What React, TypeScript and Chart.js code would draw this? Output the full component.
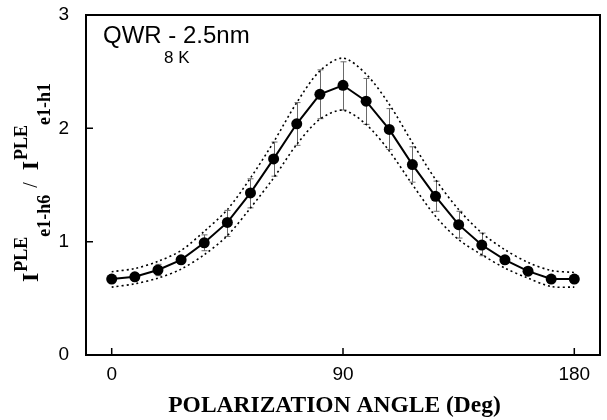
import React, { useEffect, useRef } from "react";
import { Chart, registerables } from "chart.js";

Chart.register(...registerables);

// Polarization angle (degrees)
const angles = [0, 9, 18, 27, 36, 45, 54, 63, 72, 81, 90, 99, 108, 117, 126, 135, 144, 153, 162, 171, 180];

// Intensity ratio I(e1-h6) / I(e1-h1)
const ratio = [0.67, 0.69, 0.75, 0.84, 0.99, 1.17, 1.43, 1.73, 2.04, 2.3, 2.38, 2.24, 1.99, 1.68, 1.4, 1.15, 0.97, 0.84, 0.74, 0.67, 0.67];

// Dotted envelope around the measured curve
const envelopeHigh = [0.735, 0.763, 0.826, 0.922, 1.091, 1.283, 1.562, 1.879, 2.227, 2.507, 2.62, 2.478, 2.212, 1.873, 1.549, 1.283, 1.077, 0.929, 0.817, 0.746, 0.728];
const envelopeLow = [0.599, 0.628, 0.678, 0.758, 0.885, 1.053, 1.298, 1.562, 1.858, 2.08, 2.16, 2.035, 1.8, 1.504, 1.224, 1.018, 0.885, 0.767, 0.678, 0.604, 0.599];

// Error bar limits (null = no bar)
const errHigh: (number | null)[] = [null, null, 0.8, null, 1.06, 1.276, 1.555, 1.879, 2.227, 2.516, 2.587, 2.44, 2.174, 1.837, 1.534, 1.268, 1.076, null, null, null, null];
const errLow: (number | null)[] = [null, null, 0.7, null, 0.92, 1.046, 1.298, 1.578, 1.85, 2.085, 2.162, 2.035, 1.814, 1.525, 1.268, 1.032, 0.876, null, null, null, null];

const xTicks = [0, 90, 180];
const yTicks = [0, 1, 2, 3];

const SANS = "'Liberation Sans', Arial, Helvetica, sans-serif";
const SERIF = "'Liberation Serif', 'Times New Roman', serif";

const decorPlugin = {
  id: "decor",
  beforeDatasetsDraw(chart: any) {
    const { ctx, scales } = chart;
    const xs = scales.x;
    const ys = scales.y;
    ctx.save();
    ctx.strokeStyle = "#6a6a6a";
    ctx.lineWidth = 1;
    for (let i = 0; i < angles.length; i++) {
      const hi = errHigh[i];
      const lo = errLow[i];
      if (hi == null || lo == null) continue;
      const x = Math.round(xs.getPixelForValue(angles[i])) + 0.5;
      const yH = ys.getPixelForValue(hi);
      const yL = ys.getPixelForValue(lo);
      ctx.beginPath();
      ctx.moveTo(x, yH);
      ctx.lineTo(x, yL);
      ctx.moveTo(x - 3, yH);
      ctx.lineTo(x + 3, yH);
      ctx.moveTo(x - 3, yL);
      ctx.lineTo(x + 3, yL);
      ctx.stroke();
    }
    ctx.restore();
  },
  afterDraw(chart: any) {
    const { ctx, chartArea, scales } = chart;
    const { left, right, top, bottom } = chartArea;
    const xs = scales.x;
    const ys = scales.y;
    ctx.save();

    // frame
    ctx.strokeStyle = "#000";
    ctx.lineWidth = 2;
    ctx.strokeRect(left, top, right - left, bottom - top);

    // inward tick marks
    ctx.lineWidth = 1.5;
    ctx.beginPath();
    for (const v of xTicks) {
      const x = xs.getPixelForValue(v);
      ctx.moveTo(x, bottom);
      ctx.lineTo(x, bottom - 7);
    }
    for (const v of yTicks) {
      const y = ys.getPixelForValue(v);
      ctx.moveTo(left, y);
      ctx.lineTo(left + 7, y);
    }
    ctx.stroke();

    // sample annotation
    ctx.fillStyle = "#000";
    ctx.textBaseline = "alphabetic";
    ctx.textAlign = "left";
    ctx.font = `24px ${SANS}`;
    ctx.fillText("QWR - 2.5nm", 103, 43);
    ctx.font = `17px ${SANS}`;
    ctx.fillText("8 K", 164, 63);

    // x axis title
    ctx.font = `bold 23.5px ${SERIF}`;
    ctx.textAlign = "center";
    ctx.textBaseline = "middle";
    ctx.fillText("POLARIZATION ANGLE (Deg)", 334.5, 406);

    // y axis title with super/subscripts, rotated
    const segs = [
      { t: "I", f: `bold 24px ${SERIF}`, dy: 0, gap: 1 },
      { t: "PLE", f: `bold 18px ${SERIF}`, dy: -11, gap: 0 },
      { t: "e1-h6", f: `bold 18px ${SERIF}`, dy: 12, gap: 7 },
      { t: "/", f: `20px ${SERIF}`, dy: -1, gap: 12 },
      { t: "I", f: `bold 24px ${SERIF}`, dy: 0, gap: 1 },
      { t: "PLE", f: `bold 18px ${SERIF}`, dy: -11, gap: 0 },
      { t: "e1-h1", f: `bold 18px ${SERIF}`, dy: 12, gap: 0 },
    ];
    ctx.textAlign = "left";
    ctx.textBaseline = "alphabetic";
    let total = 0;
    const widths: number[] = [];
    for (const s of segs) {
      ctx.font = s.f;
      const w = ctx.measureText(s.t).width;
      widths.push(w);
      total += w + s.gap;
    }
    ctx.translate(38, 182.5);
    ctx.rotate(-Math.PI / 2);
    let cx = -total / 2;
    segs.forEach((s, i) => {
      ctx.font = s.f;
      ctx.fillText(s.t, cx, s.dy);
      cx += widths[i] + s.gap;
    });

    ctx.restore();
  },
};

export default function App() {
  const ref = useRef<HTMLCanvasElement>(null);

  useEffect(() => {
    document.body.style.margin = "0";
    const canvas = ref.current;
    if (!canvas) return;

    const pts = (arr: number[]) => angles.map((a, i) => ({ x: a, y: arr[i] }));

    const chart = new Chart(canvas, {
      type: "line",
      data: {
        datasets: [
          {
            label: "ratio",
            data: pts(ratio),
            borderColor: "#000",
            borderWidth: 2,
            backgroundColor: "#000",
            pointRadius: 5.5,
            pointBorderWidth: 0,
            pointBackgroundColor: "#000",
            tension: 0,
            order: 0,
          },
          {
            label: "upper",
            data: pts(envelopeHigh),
            borderColor: "#000",
            borderWidth: 1.6,
            borderDash: [2, 3],
            pointRadius: 0,
            tension: 0.3,
            order: 1,
          },
          {
            label: "lower",
            data: pts(envelopeLow),
            borderColor: "#000",
            borderWidth: 1.6,
            borderDash: [2, 3],
            pointRadius: 0,
            tension: 0.3,
            order: 1,
          },
        ],
      },
      options: {
        animation: false,
        responsive: false,
        devicePixelRatio: 1,
        layout: { padding: { left: 0, right: 7, top: 15, bottom: 0 } },
        plugins: {
          legend: { display: false },
          tooltip: { enabled: false },
        },
        scales: {
          x: {
            type: "linear",
            min: -10,
            max: 190,
            afterBuildTicks: (s: any) => {
              s.ticks = xTicks.map((v) => ({ value: v }));
            },
            afterFit: (s: any) => {
              s.height = 65;
              s.paddingLeft = 0;
              s.paddingRight = 0;
            },
            grid: { display: false },
            border: { display: false },
            ticks: {
              color: "#000",
              padding: 0,
              maxRotation: 0,
              autoSkip: false,
              font: { family: SANS, size: 19 },
            },
          },
          y: {
            type: "linear",
            min: 0,
            max: 3,
            afterBuildTicks: (s: any) => {
              s.ticks = yTicks.map((v) => ({ value: v }));
            },
            afterFit: (s: any) => {
              s.width = 86;
              s.paddingTop = 0;
              s.paddingBottom = 0;
            },
            grid: { display: false },
            border: { display: false },
            ticks: {
              color: "#000",
              padding: 9,
              font: { family: SANS, size: 19 },
            },
          },
        },
      },
      plugins: [decorPlugin],
    } as any);

    return () => chart.destroy();
  }, []);

  return (
    <div style={{ width: 607, height: 420 }}>
      <canvas ref={ref} width={607} height={420} style={{ display: "block" }} />
    </div>
  );
}
